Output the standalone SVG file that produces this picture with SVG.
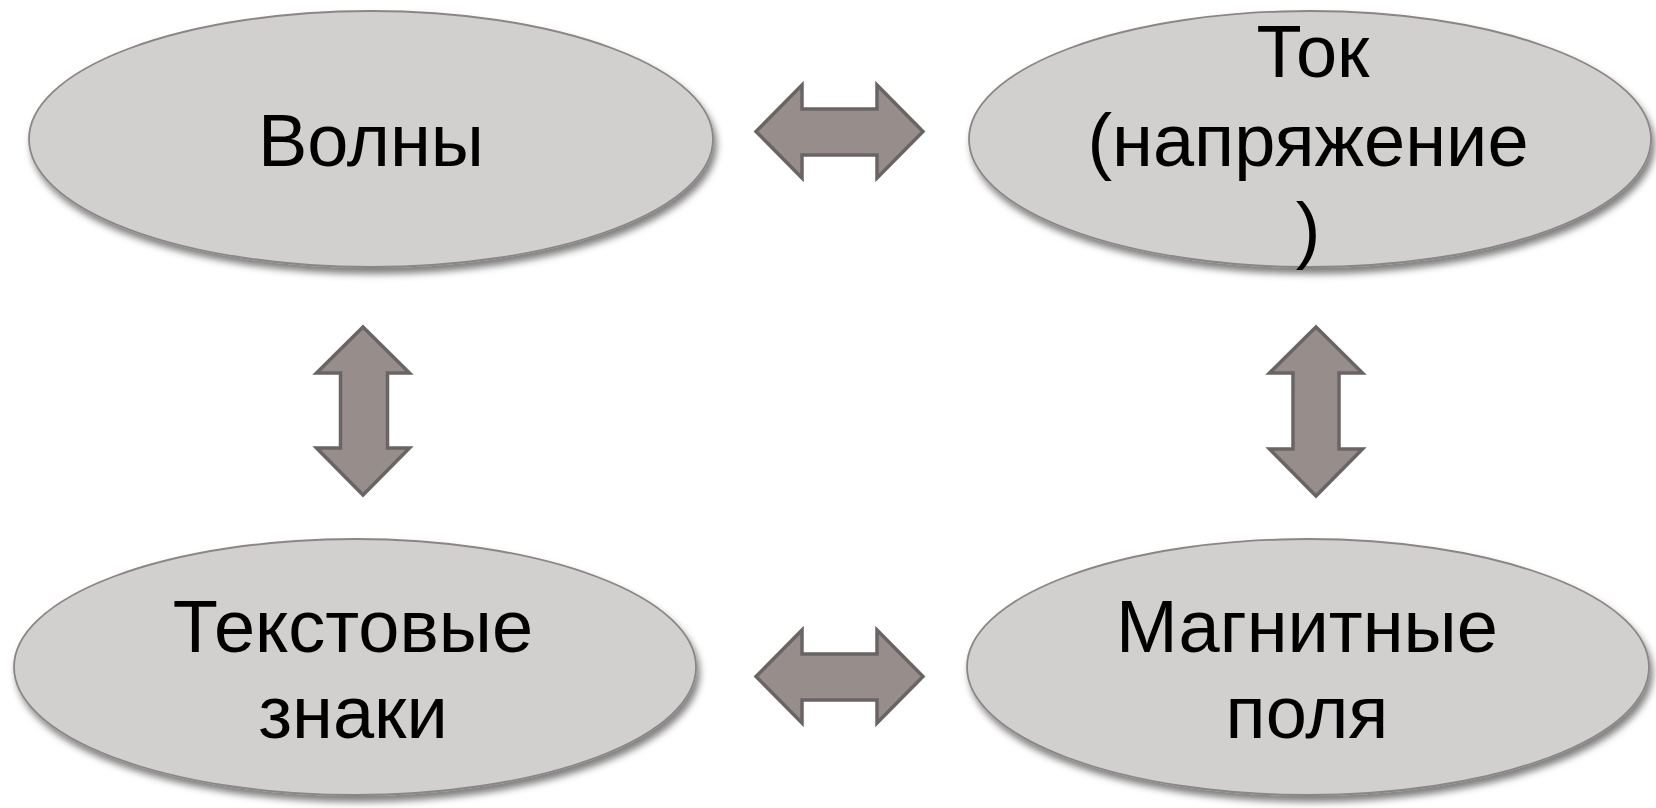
<svg xmlns="http://www.w3.org/2000/svg" width="1656" height="808" viewBox="0 0 1656 808">
<defs>
<filter id="sh" x="-10%" y="-10%" width="120%" height="130%">
<feDropShadow dx="3" dy="6" stdDeviation="3.5" flood-color="#000" flood-opacity="0.5"/>
</filter>
<style>
.node{fill:#d1d0cf;stroke:#8d8584;stroke-width:1.8;filter:url(#sh)}
.lbl{font-family:"Liberation Sans",Arial,sans-serif;font-size:74px;fill:#000;text-anchor:middle}
.arr{fill:#978d8b;stroke:#6a6463;stroke-width:3.5;stroke-linejoin:miter}
</style>
</defs>
<rect width="1656" height="808" fill="#fff"/>
<g id="node-volny">
<ellipse class="node" cx="371" cy="139" rx="342" ry="128"/>
<text class="lbl" x="371" y="166">Волны</text>
</g>
<g id="node-tok">
<ellipse class="node" cx="1310" cy="139" rx="341" ry="128"/>
<text class="lbl" x="1313" y="77">Ток</text>
<text class="lbl" x="1308" y="166">(напряжение</text>
<text class="lbl" x="1308" y="255">)</text>
</g>
<g id="node-text">
<ellipse class="node" cx="355" cy="667" rx="341" ry="128"/>
<text class="lbl" x="353" y="652">Текстовые</text>
<text class="lbl" x="353" y="738">знаки</text>
</g>
<g id="node-magn">
<ellipse class="node" cx="1308" cy="667" rx="341" ry="128"/>
<text class="lbl" x="1307" y="652">Магнитные</text>
<text class="lbl" x="1307" y="738">поля</text>
</g>
<g id="connectors">
<polygon class="arr" points="756,131.5 802,85 802,109 877,109 877,85 923,131.5 877,178 877,155 802,155 802,178"/>
<polygon class="arr" points="756,676.5 802,630 802,654 877,654 877,630 923,676.5 877,723 877,700 802,700 802,723"/>
<polygon class="arr" points="363,327 409.5,373 387.5,373 387.5,448 409.5,448 363,495 316.5,448 340.5,448 340.5,373 316.5,373"/>
<polygon class="arr" points="1316,327 1362.5,373 1339,373 1339,449 1362.5,449 1316,496 1269.5,449 1293,449 1293,373 1269.5,373"/>
</g>
</svg>
